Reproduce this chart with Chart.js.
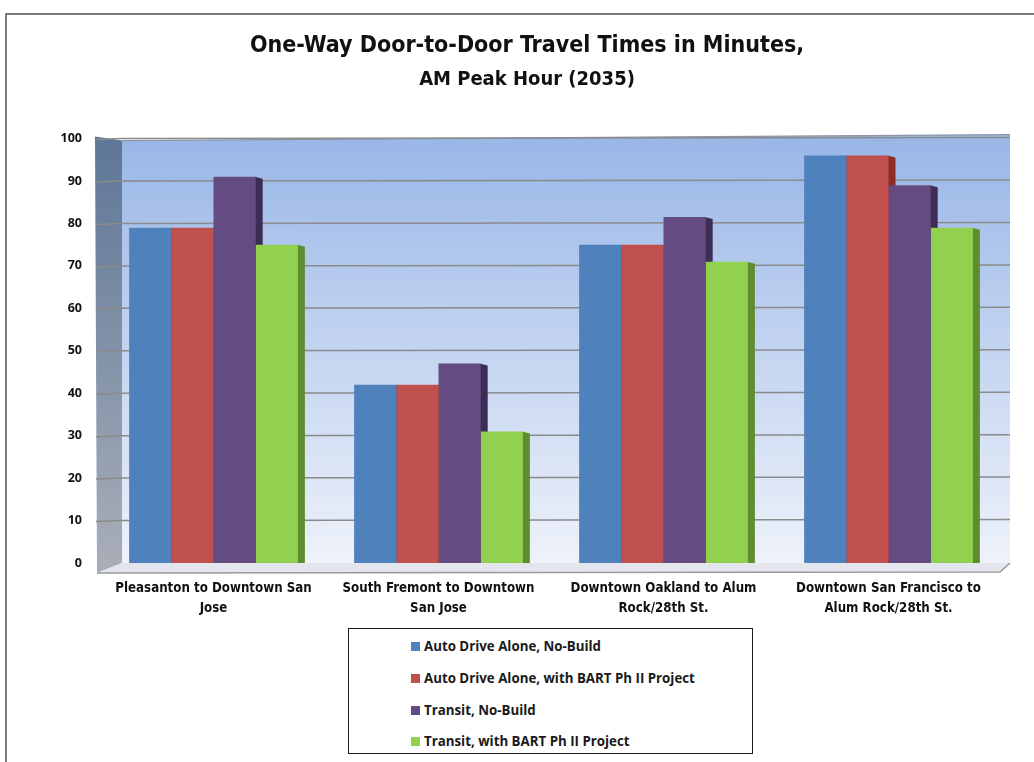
<!DOCTYPE html>
<html>
<head>
<meta charset="utf-8">
<script src="https://cdn.jsdelivr.net/npm/chart.js@4.4.0/dist/chart.umd.min.js"></script>
<style>
  html, body { margin: 0; padding: 0; background: #ffffff; }
  #wrap { position: relative; width: 1034px; height: 762px; overflow: hidden; background: #fff; }
  #frame { position: absolute; left: 5px; top: 13px; width: 1040px; height: 760px;
           border-top: 2px solid #7a7a7a; border-left: 2px solid #7a7a7a; }
  canvas { position: absolute; left: 0; top: 0; }
  #legend { position: absolute; left: 348px; top: 628px; width: 405px; height: 126px;
            border: 1.5px solid #1a1a1a; box-sizing: border-box; background: #fff;
            font-family: 'Open Sans', 'DejaVu Sans', sans-serif; font-weight: bold; font-size: 13.3px; color: #1a1a1a; }
  .li { position: absolute; left: 62px; height: 18px; line-height: 18px; white-space: nowrap; }
  .sw { display: inline-block; width: 9px; height: 9px; margin-right: 4px; vertical-align: 0px; }
</style>
</head>
<body>
<div id="wrap">
  <div id="frame"></div>
  <canvas id="c" width="1034" height="762"></canvas>
  <div id="legend"></div>
</div>
<script>
const categories = [
  ["Pleasanton to Downtown San", "Jose"],
  ["South Fremont to Downtown", "San Jose"],
  ["Downtown Oakland to Alum", "Rock/28th St."],
  ["Downtown San Francisco to", "Alum Rock/28th St."]
];
const seriesNames = [
  "Auto Drive Alone, No-Build",
  "Auto Drive Alone, with BART Ph II Project",
  "Transit, No-Build",
  "Transit, with BART Ph II Project"
];
const autoNoBuild     = [79, 42, 75, 96];
const autoWithBART    = [79, 42, 75, 96];
const transitNoBuild  = [91, 47, 81.5, 89];
const transitWithBART = [75, 31, 71, 79];
const yTicks = [0, 10, 20, 30, 40, 50, 60, 70, 80, 90, 100];

const colors = ['#4f81bd', '#c0504d', '#644c82', '#92d050'];
const sideColors = ['#2f5487', '#8a2d2b', '#3d2c55', '#5f8c2f'];
const seriesValues = [autoNoBuild, autoWithBART, transitNoBuild, transitWithBART];

const narrow = "'Liberation Sans Narrow', 'DejaVu Sans Condensed', 'Roboto Condensed', 'Liberation Sans', sans-serif";

const threeD = {
  id: 'threeD',
  beforeDatasetsDraw(chart) {
    const { ctx, chartArea: ca, scales: { y } } = chart;
    const top = y.getPixelForValue(100);
    const bottom = y.getPixelForValue(0);
    const bx0 = ca.left + 21, bx1 = ca.right + 9;
    ctx.save();
    // back wall
    let g = ctx.createLinearGradient(0, top - 4, 0, bottom);
    g.addColorStop(0, '#98b6e7');
    g.addColorStop(1, '#eef2fa');
    ctx.fillStyle = g;
    ctx.beginPath();
    ctx.moveTo(bx0, top + 2); ctx.lineTo(bx1, top - 4); ctx.lineTo(bx1, bottom); ctx.lineTo(bx0, bottom);
    ctx.closePath(); ctx.fill();
    ctx.strokeStyle = '#8c96a6'; ctx.lineWidth = 1.2;
    ctx.beginPath(); ctx.moveTo(bx0, top + 2); ctx.lineTo(bx1, top - 4); ctx.stroke();
    // left wall
    g = ctx.createLinearGradient(0, top, 0, bottom + 10);
    g.addColorStop(0, '#5e7697');
    g.addColorStop(1, '#a9afb9');
    ctx.fillStyle = g;
    ctx.beginPath();
    ctx.moveTo(ca.left - 6, top - 2); ctx.lineTo(bx0, top + 2); ctx.lineTo(bx0, bottom); ctx.lineTo(ca.left - 4, bottom + 10);
    ctx.closePath(); ctx.fill();
    // floor
    ctx.fillStyle = '#e3e6ec';
    ctx.beginPath();
    ctx.moveTo(ca.left - 4, bottom + 10); ctx.lineTo(bx0, bottom); ctx.lineTo(bx1, bottom); ctx.lineTo(bx1 - 10, bottom + 9);
    ctx.closePath(); ctx.fill();
    ctx.strokeStyle = '#9a9a9a'; ctx.lineWidth = 1.5;
    ctx.beginPath(); ctx.moveTo(ca.left - 4, bottom + 10); ctx.lineTo(bx1 - 10, bottom + 9); ctx.lineTo(bx1, bottom); ctx.stroke();
    // gridlines
    y.ticks.forEach(t => {
      if (t.value === 0) return;
      const py = y.getPixelForValue(t.value);
      ctx.strokeStyle = '#8b8b8b'; ctx.lineWidth = 1.5;
      ctx.beginPath(); ctx.moveTo(ca.left - 5, py + 1); ctx.lineTo(bx0, py); ctx.lineTo(bx1, py - 1); ctx.stroke();
    });
    // side faces of bars
    chart.data.datasets.forEach((ds, i) => {
      const meta = chart.getDatasetMeta(i);
      meta.data.forEach(bar => {
        const r = bar.x + bar.width / 2;
        ctx.fillStyle = sideColors[i];
        ctx.beginPath();
        ctx.moveTo(r - 1, bar.y); ctx.lineTo(r + 7, bar.y + 2); ctx.lineTo(r + 7, bar.base); ctx.lineTo(r - 1, bar.base);
        ctx.closePath(); ctx.fill();
      });
    });
    ctx.restore();
  }
};

const chart = new Chart(document.getElementById('c'), {
  type: 'bar',
  data: {
    labels: categories,
    datasets: seriesNames.map((name, i) => ({
      label: name,
      data: seriesValues[i],
      backgroundColor: colors[i],
      borderWidth: 0,
      barPercentage: 1.0,
      categoryPercentage: 0.75
    }))
  },
  options: {
    responsive: false,
    animation: false,
    events: [],
    layout: { padding: { left: 53, right: 33, top: 0, bottom: 139 } },
    plugins: {
      legend: { display: false },
      tooltip: { enabled: false },
      title: {
        display: true,
        text: 'One-Way Door-to-Door Travel Times in Minutes,',
        color: '#111',
        font: { family: narrow, size: 23, weight: 'bold', lineHeight: 1.2 },
        padding: { top: 32, bottom: 0 }
      },
      subtitle: {
        display: true,
        text: 'AM Peak Hour (2035)',
        color: '#111',
        font: { family: narrow, size: 20, weight: 'bold', lineHeight: 1.2 },
        padding: { top: 8, bottom: 47 }
      }
    },
    scales: {
      x: {
        grid: { display: false, drawTicks: false },
        border: { display: false },
        ticks: {
          color: '#111',
          font: { family: narrow, size: 13.2, weight: 'bold', lineHeight: 1.5 },
          padding: 16,
          maxRotation: 0, autoSkip: false
        },
        afterFit(s) { s.height = 60; }
      },
      y: {
        min: 0, max: 100,
        afterBuildTicks(s) { s.ticks = yTicks.map(v => ({ value: v })); },
        grid: { display: false, drawTicks: false },
        border: { display: false },
        ticks: {
          color: '#111',
          font: { family: "'Open Sans', 'DejaVu Sans', sans-serif", size: 12.5, weight: 'bold' },
          padding: 19
        },
        afterFit(s) { s.width = 48; }
      }
    }
  },
  plugins: [threeD]
});

// legend built from series arrays
const leg = document.getElementById('legend');
const rowTops = [8, 40, 72, 103];
seriesNames.forEach((name, i) => {
  const d = document.createElement('div');
  d.className = 'li';
  d.style.top = rowTops[i] + 'px';
  const sw = document.createElement('span');
  sw.className = 'sw';
  sw.style.background = colors[i];
  d.appendChild(sw);
  d.appendChild(document.createTextNode(name));
  leg.appendChild(d);
});
</script>
</body>
</html>
